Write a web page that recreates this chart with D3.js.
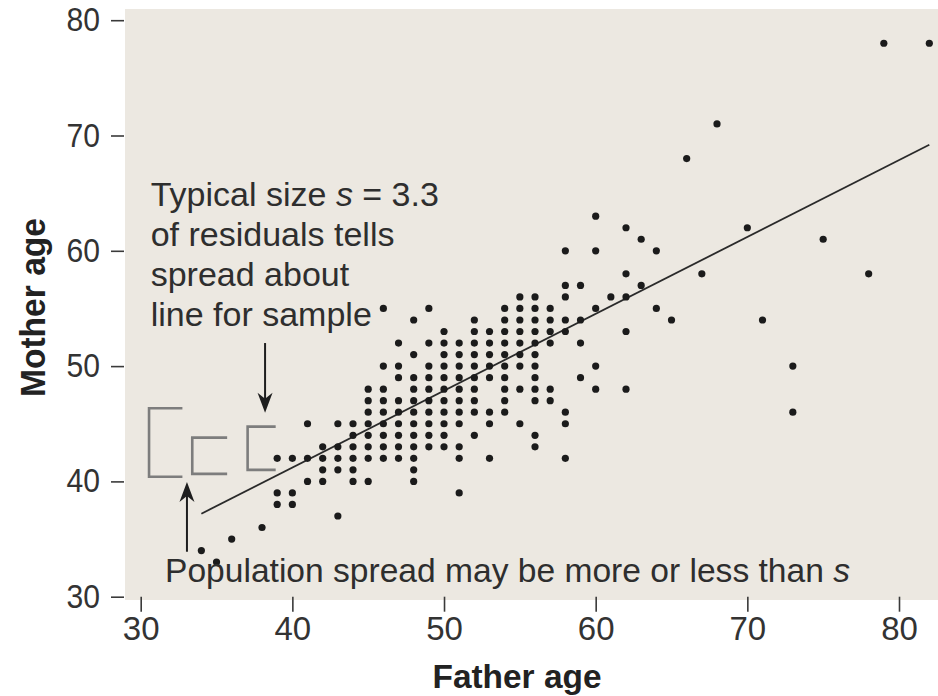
<!DOCTYPE html>
<html>
<head>
<meta charset="utf-8">
<script src="https://cdn.jsdelivr.net/npm/d3@7"></script>
<style>
  html, body { margin: 0; padding: 0; background: #fff; }
  svg { display: block; }
  text { font-family: "Liberation Sans", Arial, Helvetica, sans-serif; }
</style>
</head>
<body>
<svg id="chart" width="938" height="696"></svg>
<script>
// Father ages that occur in the sample, and the mother ages recorded for each
const fatherAges = [34, 35, 36, 38, 39, 40, 41, 42, 43, 44, 45, 46, 47, 48, 49, 50, 51, 52, 53, 54, 55,
                    56, 57, 58, 59, 60, 61, 62, 63, 64, 65, 66, 67, 68, 70, 71, 73, 75, 78, 79, 82];
const motherAges = [
  [34], [33], [35], [36],
  [42, 39, 38],
  [42, 39, 38],
  [45, 42, 40],
  [43, 42, 41, 40],
  [45, 43, 42, 41, 37],
  [45, 44, 43, 42, 41, 40],
  [48, 47, 46, 45, 44, 43, 42, 40],
  [55, 50, 48, 47, 46, 45, 44, 43, 42],
  [52, 50, 49, 47, 46, 45, 44, 43, 42],
  [54, 51, 49, 48, 47, 46, 45, 44, 43, 42, 41, 40],
  [55, 52, 50, 49, 48, 47, 46, 45, 44, 43],
  [53, 52, 51, 50, 49, 48, 47, 46, 45, 44, 43],
  [52, 51, 50, 49, 48, 47, 46, 45, 43, 42, 39],
  [54, 53, 52, 51, 50, 49, 48, 47, 46, 44],
  [53, 52, 51, 50, 49, 46, 45, 42],
  [55, 54, 53, 52, 51, 50, 49, 48, 47, 46],
  [56, 55, 54, 53, 52, 51, 50, 48, 45],
  [56, 55, 54, 53, 52, 51, 50, 49, 48, 47, 44, 43],
  [55, 54, 53, 52, 48, 47],
  [60, 57, 56, 54, 53, 46, 45, 42],
  [57, 54, 52, 49],
  [63, 60, 55, 50, 48],
  [56],
  [62, 58, 56, 53, 48],
  [61, 57],
  [60, 55],
  [54], [68], [58], [71], [62], [54],
  [50, 46],
  [61], [58], [78], [78]
];

// Least-squares line endpoints (father age -> fitted mother age)
const fitFather = [34, 82];
const fitMother = [37.2, 69.2];

const xTicks = [30, 40, 50, 60, 70, 80];
const yTicks = [30, 40, 50, 60, 70, 80];

// Residual-spread brackets: [left, right, top, bottom] in age units
const brackets = [
  [30.55, 32.75, 46.35, 40.4],
  [33.4, 35.7, 43.8, 40.65],
  [37.05, 38.9, 44.75, 41.0]
];

// Pointer arrows: [father age, from mother age, to mother age]
const arrows = [
  [38.2, 52.0, 45.95],
  [33.05, 33.9, 39.95]
];

const annotationLines = [
  ["Typical size ", "s", " = 3.3"],
  ["of residuals tells"],
  ["spread about"],
  ["line for sample"]
];
const footNote = ["Population spread may be more or less than ", "s"];

const points = [];
fatherAges.forEach((f, i) => motherAges[i].forEach(m => points.push({ father: f, mother: m })));

const svg = d3.select("#chart");

const x = d3.scaleLinear().domain([30, 80]).range([140.7, 899]);
const y = d3.scaleLinear().domain([30, 80]).range([596.7, 20.2]);

// Plot panel
svg.append("rect")
  .attr("x", 125).attr("y", 9)
  .attr("width", 813).attr("height", 591)
  .attr("fill", "#ece8e1");

// Axes (tick marks and labels only)
const gx = svg.append("g")
  .attr("transform", `translate(0,${y(30)})`)
  .call(d3.axisBottom(x).tickValues(xTicks).tickSize(15).tickPadding(5).tickFormat(d3.format("d")));
const gy = svg.append("g")
  .attr("transform", "translate(124,0)")
  .call(d3.axisLeft(y).tickValues(yTicks).tickSize(13).tickPadding(11).tickFormat(d3.format("d")));

[gx, gy].forEach(g => {
  g.select(".domain").remove();
  g.selectAll(".tick line").attr("stroke", "#3a3a3a").attr("stroke-width", 1.6);
  g.selectAll(".tick text")
    .attr("fill", "#333")
    .style("font-size", "33px")
    .style("font-family", "'Liberation Sans', Arial, Helvetica, sans-serif");
});
gy.selectAll(".tick text")
  .attr("textLength", 33.5)
  .attr("lengthAdjust", "spacingAndGlyphs");

// Axis titles
svg.append("text")
  .attr("x", 517).attr("y", 688)
  .attr("text-anchor", "middle")
  .attr("textLength", 169).attr("lengthAdjust", "spacingAndGlyphs")
  .style("font-size", "34px").style("font-weight", "bold")
  .attr("fill", "#222")
  .text("Father age");

svg.append("text")
  .attr("transform", "translate(45,307.5) rotate(-90)")
  .attr("text-anchor", "middle")
  .attr("textLength", 179).attr("lengthAdjust", "spacingAndGlyphs")
  .style("font-size", "35px").style("font-weight", "bold")
  .attr("fill", "#222")
  .text("Mother age");

// Brackets showing residual spread
svg.append("g")
  .selectAll("path")
  .data(brackets)
  .join("path")
  .attr("d", d => `M${x(d[1])},${y(d[2])}H${x(d[0])}V${y(d[3])}H${x(d[1])}`)
  .attr("fill", "none")
  .attr("stroke", "#7d7d7d")
  .attr("stroke-width", 2.6);

// Regression line
svg.append("line")
  .attr("x1", x(fitFather[0])).attr("y1", y(fitMother[0]))
  .attr("x2", x(fitFather[1])).attr("y2", y(fitMother[1]))
  .attr("stroke", "#2a2a2a")
  .attr("stroke-width", 1.8);

// Data points
svg.append("g")
  .selectAll("circle")
  .data(points)
  .join("circle")
  .attr("cx", d => x(d.father))
  .attr("cy", d => y(d.mother))
  .attr("r", 3.6)
  .attr("fill", "#1b1b1b");

// Arrows
const ag = svg.append("g");
arrows.forEach(([f, m0, m1]) => {
  const ax = x(f), y0 = y(m0), y1 = y(m1);
  const dir = y1 > y0 ? 1 : -1;
  const headLen = 20, half = 7.5;
  ag.append("line")
    .attr("x1", ax).attr("y1", y0)
    .attr("x2", ax).attr("y2", y1 - dir * headLen * 0.6)
    .attr("stroke", "#1e1e1e").attr("stroke-width", 2);
  ag.append("path")
    .attr("d", `M${ax},${y1}L${ax - half},${y1 - dir * headLen}L${ax},${y1 - dir * headLen * 0.7}L${ax + half},${y1 - dir * headLen}Z`)
    .attr("fill", "#1e1e1e");
});

// Annotation text
const note = svg.append("text")
  .attr("fill", "#2e2e2e")
  .style("font-size", "34px");
annotationLines.forEach((parts, i) => {
  parts.forEach((p, j) => {
    const t = note.append("tspan").text(p);
    if (j === 0) t.attr("x", 150.7).attr("y", 206 + i * 40);
    if (p === "s") t.style("font-style", "italic");
  });
});

const foot = svg.append("text")
  .attr("x", 165).attr("y", 582)
  .attr("fill", "#2e2e2e")
  .style("font-size", "33.6px");
foot.append("tspan").text(footNote[0]);
foot.append("tspan").style("font-style", "italic").text(footNote[1]);
</script>
</body>
</html>
